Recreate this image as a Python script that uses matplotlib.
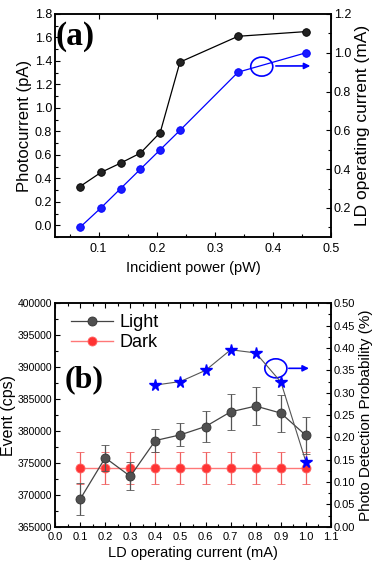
import matplotlib.pyplot as plt
from matplotlib.patches import Ellipse
from matplotlib.ticker import MultipleLocator, FormatStrFormatter

plt.rcParams['font.family'] = ['Liberation Sans', 'DejaVu Sans']

# panel (a): photocurrent / LD current vs incident power
power = [0.068, 0.104, 0.138, 0.172, 0.206, 0.240, 0.340, 0.457]
photocurrent = [0.33, 0.45, 0.53, 0.615, 0.79, 1.39, 1.61, 1.65]
ld_current_a = [0.1, 0.2, 0.3, 0.4, 0.5, 0.6, 0.9, 1.0]

# panel (b): event rate and detection probability vs LD current
ld_current = [0.1, 0.2, 0.3, 0.4, 0.5, 0.6, 0.7, 0.8, 0.9, 1.0]
light = [369300, 375800, 372900, 378500, 379400, 380700, 383000, 383900, 382800, 379300]
light_err = [2500, 2000, 2200, 1800, 1800, 2500, 2800, 3000, 2900, 2900]
dark = [374200] * 10
dark_err = [2500] * 10
pdp_current = [0.4, 0.5, 0.6, 0.7, 0.8, 0.9, 1.0]
pdp = [0.317, 0.325, 0.350, 0.396, 0.389, 0.324, 0.145]

fig = plt.figure(figsize=(3.73, 5.64), dpi=100)
ax1 = fig.add_axes([0.1475, 0.5798, 0.740, 0.3954])
ax2 = fig.add_axes([0.1475, 0.0661, 0.740, 0.3961])


def style_axis(ax, size):
    ax.tick_params(which='both', direction='in', width=0.8, labelsize=size, pad=2)
    ax.tick_params(which='major', length=3.5)
    ax.tick_params(which='minor', length=2)
    for s in ax.spines.values():
        s.set_linewidth(1.1)


# ---- (a) ----
ax1.plot(power, photocurrent, '-o', color='black', lw=0.9, ms=5.5,
         mfc='#222222', mec='black', mew=0.6)
ax1.set_xlim(0.025, 0.5)
ax1.set_ylim(-0.1, 1.8)
ax1.xaxis.set_major_locator(MultipleLocator(0.1))
ax1.xaxis.set_minor_locator(MultipleLocator(0.05))
ax1.yaxis.set_major_locator(MultipleLocator(0.2))
ax1.yaxis.set_minor_locator(MultipleLocator(0.1))
ax1.xaxis.set_major_formatter(FormatStrFormatter('%.1f'))
ax1.yaxis.set_major_formatter(FormatStrFormatter('%.1f'))
ax1.tick_params(top=True, which='major')
style_axis(ax1, 9)
ax1.tick_params(axis='x', pad=4)
ax1.set_xlabel('Incidient power (pW)', fontsize=10.5, labelpad=5)
ax1.set_ylabel('Photocurrent (pA)', fontsize=12, labelpad=2)

ax1r = ax1.twinx()
ax1r.plot(power, ld_current_a, '-o', color='blue', lw=0.9, ms=5.5,
          mfc='#1a1aff', mec='blue', mew=0.6)
ax1r.set_ylim(0.05, 1.2)
ax1r.yaxis.set_major_locator(MultipleLocator(0.2))
ax1r.yaxis.set_minor_locator(MultipleLocator(0.1))
ax1r.yaxis.set_major_formatter(FormatStrFormatter('%.1f'))
style_axis(ax1r, 9)
ax1r.set_ylabel('LD operating current (mA)', fontsize=12.5, labelpad=3)

ax1.text(0.0, 0.97, '(a)', transform=ax1.transAxes, fontsize=24,
         fontweight='bold', family='Liberation Serif', va='top', ha='left')
ax1r.add_patch(Ellipse((0.749, 0.764), 0.080, 0.085, transform=ax1r.transAxes,
                       fill=False, ec='blue', lw=1.2))
ax1r.annotate('', xy=(0.935, 0.767), xytext=(0.79, 0.767),
              xycoords='axes fraction', textcoords='axes fraction',
              arrowprops=dict(arrowstyle='-|>', color='blue', lw=1.2,
                              mutation_scale=9))

# ---- (b) ----
eb_light = ax2.errorbar(ld_current, light, yerr=light_err, fmt='-o', color='#444444',
                        ecolor='#555555', elinewidth=0.9, capsize=3, capthick=0.9,
                        lw=0.9, ms=6.5, mfc='#505050', mec='#333333', mew=0.6,
                        zorder=3)
eb_dark = ax2.errorbar(ld_current, dark, yerr=dark_err, fmt='-o', color='#ff7777',
                       ecolor='#f06060', elinewidth=0.9, capsize=3, capthick=0.9,
                       lw=1.0, ms=6.5, mfc='#ff3333', mec='#ff6666', mew=0.6,
                       zorder=2)
ax2.set_xlim(0.0, 1.1)
ax2.set_ylim(365000, 400000)
ax2.xaxis.set_major_locator(MultipleLocator(0.1))
ax2.xaxis.set_minor_locator(MultipleLocator(0.05))
ax2.yaxis.set_major_locator(MultipleLocator(5000))
ax2.yaxis.set_minor_locator(MultipleLocator(2500))
ax2.xaxis.set_major_formatter(FormatStrFormatter('%.1f'))
ax2.tick_params(top=True, which='both')
style_axis(ax2, 8)
ax2.tick_params(axis='y', labelsize=7.5)
ax2.tick_params(axis='x', pad=4)
ax2.set_xlabel('LD operating current (mA)', fontsize=10.5, labelpad=3)
ax2.set_ylabel('Event (cps)', fontsize=11.5, labelpad=1)

# legend shows the line+marker only, no error bars
ax2.legend([eb_light[0], eb_dark[0]], ['Light', 'Dark'], loc='upper left',
           fontsize=13, frameon=False, handlelength=2.3, handletextpad=0.35,
           labelspacing=0.15, borderaxespad=0.2, bbox_to_anchor=(0.02, 1.0))

ax2r = ax2.twinx()
ax2r.plot(pdp_current, pdp, '-*', color='#555555', lw=0.8, ms=8.5,
          mfc='blue', mec='blue', zorder=4)
ax2r.set_ylim(0.0, 0.5)
ax2r.yaxis.set_major_locator(MultipleLocator(0.05))
ax2r.yaxis.set_minor_locator(MultipleLocator(0.025))
ax2r.yaxis.set_major_formatter(FormatStrFormatter('%.2f'))
style_axis(ax2r, 8)
ax2r.set_ylabel('Photo Detection Probability (%)', fontsize=11, labelpad=3)

ax2.text(0.035, 0.66, '(b)', transform=ax2.transAxes, fontsize=23,
         fontweight='bold', family='Liberation Serif', va='center', ha='left')
ax2r.add_patch(Ellipse((0.800, 0.709), 0.080, 0.085, transform=ax2r.transAxes,
                       fill=False, ec='blue', lw=1.2))
ax2r.annotate('', xy=(0.93, 0.709), xytext=(0.837, 0.709),
              xycoords='axes fraction', textcoords='axes fraction',
              arrowprops=dict(arrowstyle='-|>', color='blue', lw=1.2,
                              mutation_scale=9))

plt.savefig('out.png', dpi=100)
